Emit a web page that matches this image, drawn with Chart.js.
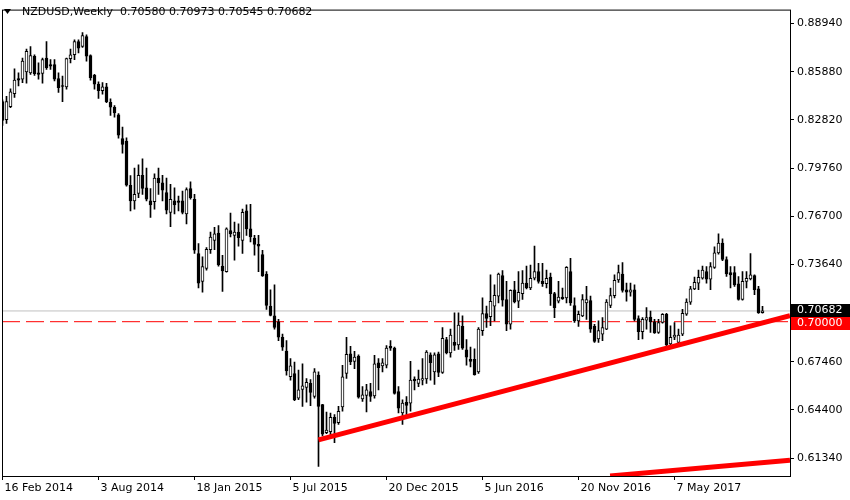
<!DOCTYPE html>
<html>
<head>
<meta charset="utf-8">
<title>NZDUSD, Weekly</title>
<script src="https://cdn.jsdelivr.net/npm/chart.js@4.4.1/dist/chart.umd.min.js"></script>
<style>
  html, body { margin: 0; padding: 0; background: #ffffff; }
  #wrap { width: 850px; height: 500px; }
</style>
</head>
<body>
<div id="wrap"><canvas id="chart" width="850" height="500"></canvas></div>
<script>
// weekly bars, first one is the week of 16 Feb 2014
var symbolName = 'NZDUSD,Weekly';

var opens = [
  0.8398,0.8283,0.8366,0.8448,0.8544,0.8540,0.8586,0.8581,0.8686,0.8581,
  0.8577,0.8675,0.8634,0.8634,0.8544,0.8498,0.8492,0.8671,0.8696,0.8780,
  0.8748,0.8811,0.8690,0.8565,0.8509,0.8467,0.8492,0.8393,0.8362,0.8314,
  0.8164,0.8147,0.7867,0.7767,0.7815,0.7930,0.7851,0.7767,0.7763,0.7913,
  0.7882,0.7820,0.7694,0.7767,0.7767,0.7767,0.7684,0.7845,0.7778,0.7433,
  0.7256,0.7339,0.7458,0.7516,0.7563,0.7353,0.7318,0.7579,0.7548,0.7569,
  0.7516,0.7704,0.7590,0.7531,0.7491,0.7427,0.7302,0.7099,0.7037,0.6999,
  0.6901,0.6813,0.6650,0.6671,0.6514,0.6570,0.6583,0.6608,0.6525,0.6661,
  0.6473,0.6295,0.6301,0.6393,0.6358,0.6458,0.6671,0.6796,0.6748,0.6782,
  0.6510,0.6531,0.6556,0.6529,0.6738,0.6719,0.6723,0.6844,0.6832,0.6556,
  0.6420,0.6487,0.6483,0.6636,0.6608,0.6629,0.6636,0.6790,0.6681,0.6796,
  0.6677,0.6886,0.6802,0.6869,0.6852,0.6970,0.6821,0.6761,0.6761,0.6681,
  0.6943,0.7051,0.7032,0.7099,0.7162,0.7293,0.7141,0.6984,0.7203,0.7130,
  0.7178,0.7245,0.7214,0.7276,0.7318,0.7256,0.7241,0.7283,0.7178,0.7130,
  0.7157,0.7151,0.7318,0.7103,0.7005,0.7037,0.7120,0.7134,0.6970,0.6890,
  0.6921,0.6953,0.7103,0.7166,0.7266,0.7303,0.7203,0.7187,0.7203,0.7020,
  0.6936,0.7009,0.7030,0.6999,0.6932,0.6995,0.7047,0.6859,0.6901,0.6869,
  0.6921,0.7047,0.7124,0.7208,0.7245,0.7276,0.7318,0.7270,0.7345,0.7437,
  0.7500,0.7395,0.7312,0.7312,0.7241,0.7141,0.7256,0.7272,0.7293,0.7208,
  0.70580
];
var highs = [
  0.8410,0.8431,0.8479,0.8606,0.8581,0.8675,0.8732,0.8748,0.8696,0.8644,
  0.8675,0.8780,0.8665,0.8665,0.8581,0.8561,0.8675,0.8732,0.8790,0.8790,
  0.8836,0.8822,0.8696,0.8571,0.8523,0.8519,0.8515,0.8415,0.8373,0.8322,
  0.8237,0.8168,0.7928,0.7976,0.7997,0.8034,0.7976,0.7846,0.7939,0.7976,
  0.7930,0.7913,0.7872,0.7851,0.7798,0.7830,0.7851,0.7888,0.7809,0.7496,
  0.7412,0.7471,0.7569,0.7600,0.7610,0.7422,0.7596,0.7690,0.7632,0.7621,
  0.7715,0.7742,0.7746,0.7548,0.7548,0.7454,0.7318,0.7203,0.7234,0.7015,
  0.6921,0.6880,0.6765,0.6744,0.6692,0.6733,0.6639,0.6633,0.6702,0.6681,
  0.6475,0.6426,0.6420,0.6410,0.6462,0.6723,0.6901,0.6844,0.6811,0.6790,
  0.6587,0.6602,0.6608,0.6786,0.6765,0.6765,0.6849,0.6880,0.6838,0.6587,
  0.6504,0.6525,0.6748,0.6650,0.6692,0.6765,0.6817,0.6802,0.6802,0.6807,
  0.6963,0.6901,0.6953,0.7057,0.7057,0.7037,0.6886,0.6838,0.6827,0.6963,
  0.7151,0.7099,0.7297,0.7234,0.7308,0.7325,0.7256,0.7203,0.7256,0.7318,
  0.7325,0.7354,0.7360,0.7481,0.7370,0.7370,0.7328,0.7308,0.7187,0.7256,
  0.7214,0.7350,0.7402,0.7151,0.7068,0.7172,0.7224,0.7162,0.6984,0.7005,
  0.7026,0.7141,0.7214,0.7297,0.7360,0.7375,0.7245,0.7245,0.7234,0.7037,
  0.7026,0.7089,0.7068,0.7015,0.7015,0.7051,0.7053,0.6974,0.6995,0.6953,
  0.7078,0.7145,0.7224,0.7283,0.7328,0.7354,0.7350,0.7375,0.7475,0.7558,
  0.7527,0.7412,0.7350,0.7350,0.7287,0.7318,0.7318,0.7433,0.7297,0.7224,
  0.70973
];
var lows = [
  0.8247,0.8260,0.8360,0.8425,0.8498,0.8519,0.8515,0.8571,0.8565,0.8540,
  0.8515,0.8603,0.8603,0.8529,0.8456,0.8398,0.8477,0.8644,0.8665,0.8707,
  0.8742,0.8655,0.8535,0.8477,0.8418,0.8446,0.8392,0.8310,0.8299,0.8166,
  0.8070,0.7861,0.7704,0.7715,0.7788,0.7809,0.7767,0.7663,0.7715,0.7809,
  0.7767,0.7684,0.7604,0.7684,0.7704,0.7684,0.7621,0.7778,0.7433,0.7214,
  0.7187,0.7328,0.7433,0.7458,0.7353,0.7193,0.7314,0.7538,0.7391,0.7479,
  0.7433,0.7548,0.7506,0.7422,0.7318,0.7287,0.7078,0.7037,0.6953,0.6880,
  0.6817,0.6661,0.6629,0.6498,0.6504,0.6462,0.6489,0.6467,0.6514,0.6080,
  0.6274,0.6289,0.6264,0.6232,0.6348,0.6431,0.6639,0.6727,0.6702,0.6514,
  0.6493,0.6426,0.6493,0.6514,0.6567,0.6681,0.6706,0.6817,0.6539,0.6420,
  0.6348,0.6389,0.6431,0.6567,0.6587,0.6598,0.6608,0.6629,0.6602,0.6650,
  0.6671,0.6796,0.6775,0.6817,0.6824,0.6824,0.6723,0.6713,0.6661,0.6671,
  0.6913,0.6963,0.6974,0.7005,0.7120,0.7099,0.6943,0.6953,0.7120,0.7089,
  0.7141,0.7208,0.7203,0.7266,0.7245,0.7224,0.7214,0.7103,0.7026,0.7120,
  0.7141,0.7120,0.7103,0.6995,0.6970,0.7032,0.7015,0.6932,0.6869,0.6869,
  0.6880,0.6949,0.7089,0.7151,0.7250,0.7187,0.7130,0.7162,0.7005,0.6886,
  0.6890,0.6953,0.6932,0.6926,0.6926,0.6990,0.6844,0.6852,0.6886,0.6865,
  0.6911,0.7040,0.7109,0.7203,0.7203,0.7270,0.7245,0.7203,0.7339,0.7429,
  0.7387,0.7287,0.7214,0.7224,0.7137,0.7137,0.7214,0.7266,0.7172,0.7053,
  0.70545
];
var closes = [
  0.8279,0.8398,0.8460,0.8535,0.8534,0.8655,0.8717,0.8690,0.8575,0.8571,
  0.8665,0.8613,0.8623,0.8540,0.8487,0.8494,0.8671,0.8696,0.8780,0.8738,
  0.8817,0.8686,0.8550,0.8509,0.8467,0.8492,0.8398,0.8362,0.8327,0.8185,
  0.8126,0.7867,0.7767,0.7809,0.7930,0.7846,0.7778,0.7742,0.7913,0.7882,
  0.7836,0.7709,0.7778,0.7742,0.7757,0.7694,0.7840,0.7788,0.7454,0.7245,
  0.7350,0.7460,0.7538,0.7558,0.7360,0.7322,0.7590,0.7558,0.7569,0.7533,
  0.7694,0.7590,0.7538,0.7491,0.7479,0.7291,0.7103,0.7040,0.6963,0.6901,
  0.6838,0.6688,0.6719,0.6504,0.6567,0.6592,0.6614,0.6550,0.6681,0.6462,
  0.6285,0.6312,0.6393,0.6354,0.6431,0.6650,0.6792,0.6744,0.6775,0.6520,
  0.6535,0.6567,0.6525,0.6733,0.6708,0.6738,0.6832,0.6832,0.6545,0.6451,
  0.6483,0.6468,0.6629,0.6623,0.6636,0.6639,0.6807,0.6740,0.6790,0.6677,
  0.6894,0.6802,0.6915,0.6849,0.6978,0.6832,0.6775,0.6748,0.6664,0.6953,
  0.7051,0.7020,0.7130,0.7168,0.7303,0.7137,0.6984,0.7199,0.7126,0.7187,
  0.7245,0.7214,0.7276,0.7318,0.7256,0.7241,0.7276,0.7178,0.7089,0.7156,
  0.7145,0.7345,0.7120,0.7005,0.7047,0.7141,0.7141,0.6953,0.6874,0.6943,
  0.6963,0.7124,0.7166,0.7262,0.7312,0.7199,0.7187,0.7203,0.7015,0.6936,
  0.7015,0.7026,0.6999,0.6928,0.6995,0.7047,0.6852,0.6901,0.6915,0.6915,
  0.7053,0.7124,0.7208,0.7250,0.7281,0.7328,0.7270,0.7350,0.7437,0.7500,
  0.7395,0.7303,0.7297,0.7234,0.7141,0.7256,0.7276,0.7297,0.7203,0.7057,
  0.70682
];

var priceTicks = [0.88940, 0.85880, 0.82820, 0.79760, 0.76700, 0.73640, 0.67460, 0.64400, 0.61340];
var dateTicks = [0, 24, 48, 72, 96, 120, 144, 168];
var dateLabels = ['16 Feb 2014', '3 Aug 2014', '18 Jan 2015', '5 Jul 2015', '20 Dec 2015', '5 Jun 2016', '20 Nov 2016', '7 May 2017'];
var alertLevel = 0.70000;
var trendUpper = [{x: 79, y: 0.6249}, {x: 196.875, y: 0.7038}];
var trendLower = [{x: 151.9, y: 0.6020}, {x: 196.875, y: 0.6120}];
var priceMin = 0.60197, priceMax = 0.89826;
var barMin = -0.125, barMax = 196.875;

var FONT = 'DejaVu Sans';

var bodies = [], wicks = [], bodyFill = [];
for (var i = 0; i < opens.length; i++) {
  bodies.push({x: i, y: [opens[i], closes[i]]});
  wicks.push({x: i, y: [lows[i], highs[i]]});
  bodyFill.push(closes[i] >= opens[i] ? '#ffffff' : '#000000');
}
var last = closes.length - 1;
var lastClose = closes[last];

// frame, header line and the two price boxes on the right axis
var mtPlugin = {
  id: 'mtDecor',
  afterDraw: function(chart) {
    var ctx = chart.ctx;
    var area = chart.chartArea;
    var yS = chart.scales.y;
    ctx.save();
    ctx.strokeStyle = '#000000';
    ctx.lineWidth = 1;
    ctx.strokeRect(area.left + 0.5, area.top + 0.5, area.right - area.left, area.bottom - area.top);

    ctx.fillStyle = '#000000';
    ctx.beginPath();
    ctx.moveTo(4, 9); ctx.lineTo(11, 9); ctx.lineTo(7.5, 14);
    ctx.closePath(); ctx.fill();
    ctx.font = '11px "' + FONT + '"';
    ctx.textBaseline = 'middle';
    ctx.textAlign = 'left';
    var ohlc = [opens[last], highs[last], lows[last], closes[last]].map(function(v) { return v.toFixed(5); });
    ctx.fillText(symbolName + '  ' + ohlc.join(' '), 22, 12);

    var yc = Math.round(yS.getPixelForValue(lastClose));
    var boxX = area.right + 1;
    ctx.fillStyle = '#000000';
    ctx.fillRect(boxX, yc - 7, chart.width - boxX, 13);
    ctx.fillStyle = '#ffffff';
    ctx.fillText(lastClose.toFixed(5), 797, yc - 0.5);

    var ya = Math.max(Math.round(yS.getPixelForValue(alertLevel)) - 6, yc + 6);
    ctx.fillStyle = '#ff0000';
    ctx.fillRect(boxX, ya, chart.width - boxX, 13);
    ctx.fillStyle = '#ffffff';
    ctx.fillText(alertLevel.toFixed(5), 797, ya + 6.5);
    ctx.restore();
  }
};

var ctx = document.getElementById('chart').getContext('2d');
var chart = new Chart(ctx, {
  type: 'bar',
  data: {
    datasets: [
      {
        type: 'line', data: trendUpper, borderColor: '#ff0000', borderWidth: 5,
        pointRadius: 0, clip: 0, order: 0
      },
      {
        type: 'line', data: trendLower, borderColor: '#ff0000', borderWidth: 5,
        pointRadius: 0, clip: 0, order: 0
      },
      {
        label: 'body', data: bodies, backgroundColor: bodyFill, borderColor: '#000000',
        borderWidth: 1, borderSkipped: false, barThickness: 3, grouped: false,
        minBarLength: 1, order: 1
      },
      {
        label: 'wick', data: wicks, backgroundColor: '#000000', borderWidth: 0,
        barThickness: 1, grouped: false, minBarLength: 1, order: 2
      },
      {
        type: 'line', data: [{x: barMin, y: lastClose}, {x: barMax, y: lastClose}],
        borderColor: '#c0c0c0', borderWidth: 1, pointRadius: 0, clip: 0, order: 3
      },
      {
        type: 'line', data: [{x: barMin, y: alertLevel}, {x: barMax, y: alertLevel}],
        borderColor: '#ff0000', borderWidth: 1, borderDash: [18, 6], pointRadius: 0, clip: 0, order: 3
      }
    ]
  },
  options: {
    responsive: false,
    animation: false,
    events: [],
    layout: { padding: { left: 2, top: 3, right: 0, bottom: 0 } },
    plugins: { legend: { display: false }, tooltip: { enabled: false } },
    scales: {
      x: {
        type: 'linear', position: 'bottom', min: barMin, max: barMax, offset: false,
        grid: { drawOnChartArea: false, drawTicks: true, tickLength: 4, color: '#000000', offset: false },
        border: { display: false },
        afterBuildTicks: function(scale) {
          scale.ticks = dateTicks.map(function(v) { return {value: v}; });
        },
        afterFit: function(scale) { scale.height = 24; },
        ticks: {
          autoSkip: false, maxRotation: 0, minRotation: 0, align: 'start', labelOffset: 2,
          padding: 2, color: '#000000', font: { family: FONT, size: 11 },
          callback: function(v) {
            var k = dateTicks.indexOf(v);
            return k < 0 ? '' : dateLabels[k];
          }
        }
      },
      y: {
        type: 'linear', position: 'right', min: priceMin, max: priceMax,
        grid: { drawOnChartArea: false, drawTicks: true, tickLength: 4, color: '#000000' },
        border: { display: false },
        afterBuildTicks: function(scale) {
          scale.ticks = priceTicks.map(function(v) { return {value: v}; });
        },
        afterFit: function(scale) { scale.width = 60; },
        ticks: {
          padding: 3, color: '#000000', font: { family: FONT, size: 11 },
          callback: function(v) { return Number(v).toFixed(5); }
        }
      }
    }
  },
  plugins: [mtPlugin]
});
</script>
</body>
</html>
